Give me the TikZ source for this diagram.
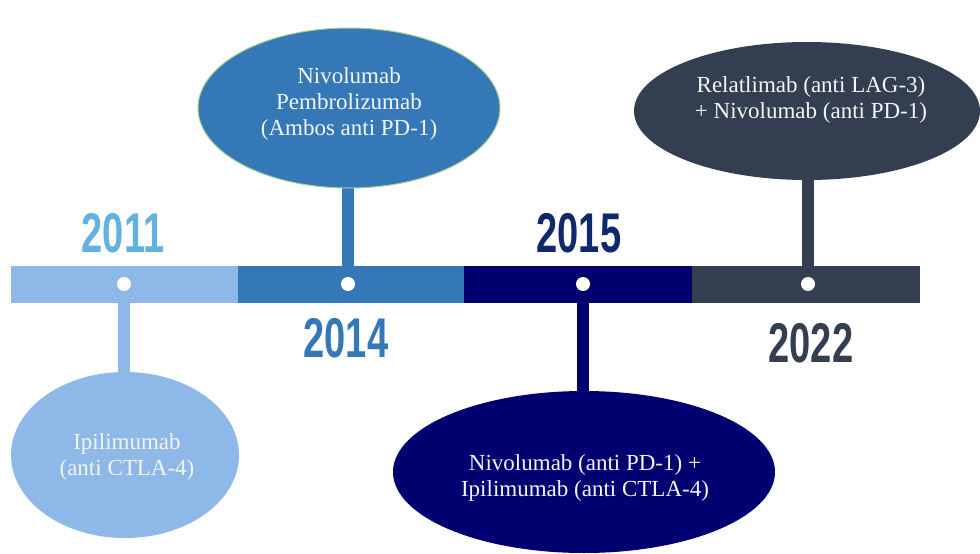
\documentclass[tikz,border=0pt]{standalone}
\usepackage{fontspec}
\setmainfont{Liberation Serif}
\newfontfamily\yearfont{Liberation Sans}[FakeStretch=0.68]
\usetikzlibrary{shapes.geometric}
\definecolor{cA}{HTML}{8DB8E8}
\definecolor{cB}{HTML}{3478B8}
\definecolor{cC}{HTML}{000070}
\definecolor{cD}{HTML}{333F50}
\definecolor{yA}{HTML}{62B2E0}
\definecolor{yC}{HTML}{10296B}
\definecolor{edgeB}{HTML}{A9D18E}
\definecolor{txt}{HTML}{F4F4F4}
\begin{document}
\begin{tikzpicture}[x=1pt,y=-1pt,
  seg/.style={rectangle, inner sep=0, minimum height=37},
  bubble/.style={ellipse, inner sep=0},
  stem/.style={line width=12.5},
  dotw/.style={circle, fill=white, inner sep=0, minimum size=14},
  yeartxt/.style={inner sep=0, font=\yearfont\bfseries\fontsize{56}{56}\selectfont},
  btxt/.style={inner sep=0, align=center, text=txt, font=\fontsize{23}{26}\selectfont}]
\useasboundingbox (0,0) rectangle (980,554);
\fill[white] (0,0) rectangle (980,554);
% bar segments
\node[seg, fill=cA, minimum width=227] (s1) at (124.5,284.5) {};
\node[seg, fill=cB, minimum width=226] (s2) at (351,284.5) {};
\node[seg, fill=cC, minimum width=228] (s3) at (578,284.5) {};
\node[seg, fill=cD, minimum width=228] (s4) at (806,284.5) {};
% bubble centres
\coordinate (c1) at (125,455);
\coordinate (c2) at (349,108);
\coordinate (c3) at (584,472);
\coordinate (c4) at (807,111);
\coordinate (d1) at (124,284);
\coordinate (d2) at (348,284);
\coordinate (d3) at (583,284);
\coordinate (d4) at (808,284);
% stems
\draw[stem, cA] (d1) -- (d1 |- c1);
\draw[stem, cB] (d2) -- (d2 |- c2);
\draw[stem, cC] (d3) -- (d3 |- c3);
\draw[stem, cD] (d4) -- (d4 |- c4);
% bubbles
\node[bubble, fill=cA, minimum width=228, minimum height=166] (e1) at (c1) {};
\node[bubble, fill=cB, draw=edgeB, line width=1, minimum width=302, minimum height=160] (e2) at (c2) {};
\node[bubble, fill=cC, minimum width=382, minimum height=162] (e3) at (c3) {};
\node[bubble, fill=cD, minimum width=346, minimum height=138] (e4) at (c4) {};
% dots
\node[dotw] (p1) at (d1) {};
\node[dotw] (p2) at (d2) {};
\node[dotw] (p3) at (d3) {};
\node[dotw] (p4) at (d4) {};
% bubble texts
\node[btxt] (t1) at (127,457) {Ipilimumab\\(anti CTLA-4)};
\node[btxt] (t2) at (349,104) {Nivolumab\\Pembrolizumab\\(Ambos anti PD-1)};
\node[btxt] (t3) at (585,478) {Nivolumab (anti PD-1) +\\Ipilimumab (anti CTLA-4)};
\node[btxt] (t4) at (811,100) {Relatlimab (anti LAG-3)\\+ Nivolumab (anti PD-1)};
% years
\node[yeartxt, text=yA] (y1) at (123,233) {2011};
\node[yeartxt, text=cB] (y2) at (346,338) {2014};
\node[yeartxt, text=yC] (y3) at (579,233) {2015};
\node[yeartxt, text=cD] (y4) at (811,343) {2022};
\end{tikzpicture}
\end{document}
